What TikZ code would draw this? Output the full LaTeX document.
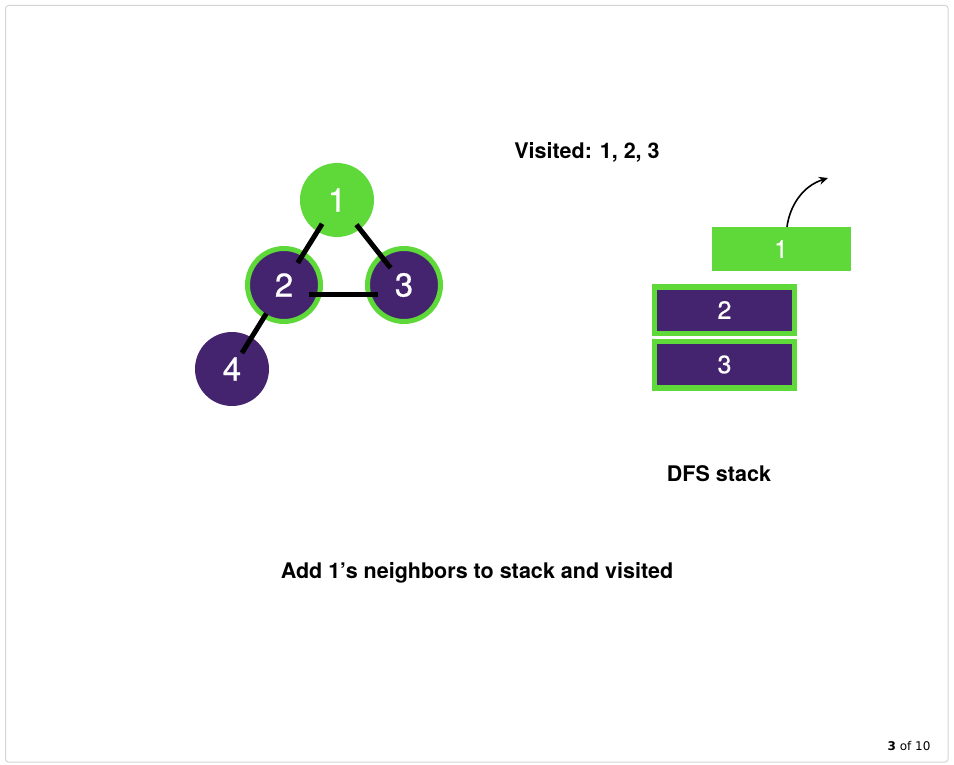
\documentclass[tikz,border=0pt]{standalone}
\usepackage{fontspec}
\setmainfont{TeX Gyre Heros}
\newfontfamily\digitfont[FakeBold=0.6]{TeX Gyre Heros}
\newfontfamily\pagerfont{DejaVu Sans}
\usetikzlibrary{calc,arrows.meta}
\definecolor{dgreen}{HTML}{5FD93A}
\definecolor{dpurple}{HTML}{45246F}
\definecolor{framegray}{HTML}{D4D4D4}
\tikzset{
  vgreen/.style={circle,fill=dgreen,minimum size=74pt,inner sep=0pt,text=white,font=\digitfont\fontsize{33}{33}\selectfont},
  vpurple/.style={circle,fill=dpurple,minimum size=74pt,inner sep=0pt,text=white,font=\digitfont\fontsize{33}{33}\selectfont},
  vring/.style={circle,fill=dpurple,draw=dgreen,line width=5pt,minimum size=73pt,inner sep=0pt,text=white,font=\digitfont\fontsize{33}{33}\selectfont},
  edge/.style={line width=5pt,black},
  sgreen/.style={rectangle,fill=dgreen,minimum width=139pt,minimum height=44pt,inner sep=0pt,text=white,font=\digitfont\fontsize{25}{25}\selectfont},
  spurple/.style={rectangle,fill=dpurple,draw=dgreen,line width=5.5pt,minimum width=140pt,minimum height=46.5pt,inner sep=0pt,text=white,font=\digitfont\fontsize{25}{25}\selectfont},
  label/.style={font=\fontsize{21.5}{21.5}\selectfont\bfseries,text=black,inner sep=0pt},
}
\begin{document}
\begin{tikzpicture}[x=1pt,y=-1pt]
\useasboundingbox (0,0) rectangle (954,765);
\draw[framegray,line width=1pt,rounded corners=3pt] (5.5,5.5) rectangle (948,762);
% graph
\node[vgreen] (n1) at (337,200) {1};
\node[vring] (n2) at (284,285) {2};
\node[vring] (n3) at (404,285) {3};
\node[vpurple] (n4) at (232,369) {4};
\draw[edge] ($(n1)!0.28!(n2)$) -- ($(n1)!0.74!(n2)$);
\draw[edge] ($(n1)!0.29!(n3)$) -- ($(n1)!0.80!(n3)$);
\draw[edge] ($(n2)!0.21!(n3)+(0,9)$) -- ($(n2)!0.78!(n3)+(0,9)$);
\draw[edge] ($(n2)!0.34!(n4)$) -- ($(n2)!0.81!(n4)$);
% labels
\node[label] (visited) at (587,152) {Visited: 1, 2, 3};
\node[label] (dfs) at (719,474) {DFS stack};
\node[label] (caption) at (477,573) {Add 1’s neighbors to stack and visited};
% stack
\node[sgreen] (s1) at (781,249) {1};
\node[spurple] (s2) at (724.5,310) {2};
\node[spurple] (s3) at (724.5,364.5) {3};
\coordinate (tip) at (828,178);
\draw[line width=1.6pt,-{Stealth[length=9pt,width=8pt]}] (s1.north -| 787,0) .. controls (790,205) and (803,186) .. (tip);
% pager
\node[inner sep=0pt,font=\pagerfont\fontsize{12}{12}\selectfont] (pager) at (909,746) {\textbf{3} of 10};
\end{tikzpicture}
\end{document}
